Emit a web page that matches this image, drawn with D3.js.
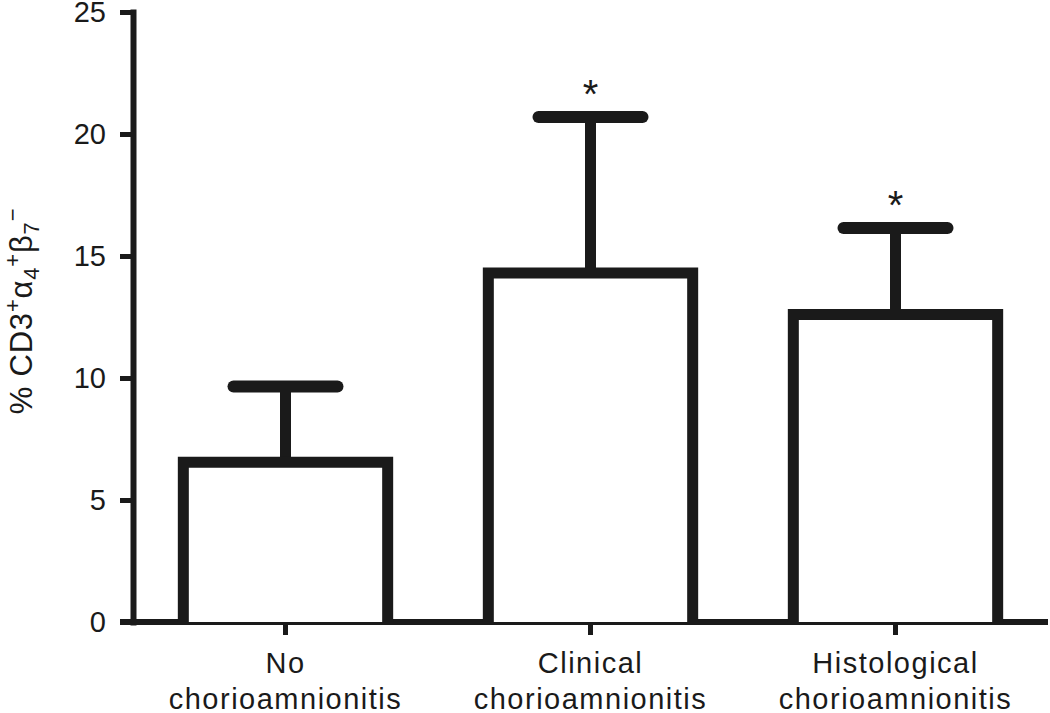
<!DOCTYPE html>
<html>
<head>
<meta charset="utf-8">
<script src="https://cdn.jsdelivr.net/npm/d3@7/dist/d3.min.js"></script>
<style>
  html, body { margin: 0; padding: 0; background: #fff; }
  svg { display: block; }
  text { font-family: "Liberation Sans", Arial, Helvetica, sans-serif; fill: #1a1a1a; }
</style>
</head>
<body>
<svg id="chart" width="1050" height="713"></svg>
<script>
// ---- data ----
const categories = ["No chorioamnionitis", "Clinical chorioamnionitis", "Histological chorioamnionitis"];
const labelLine1 = ["No", "Clinical", "Histological"];
const labelLine2 = ["chorioamnionitis", "chorioamnionitis", "chorioamnionitis"];
const means = [6.55, 14.3, 12.6];
const errors = [3.1, 6.4, 3.55];
const significance = ["", "*", "*"];
const yTicks = [0, 5, 10, 15, 20, 25];

// ---- layout ----
const ink = "#1a1a1a";
const svg = d3.select("#chart");
const y = d3.scaleLinear().domain([0, 25]).range([622, 12]);
const x = d3.scaleBand().domain(categories).range([133, 1048])
  .paddingInner(0.33).paddingOuter(0.165);

// y axis
const yAxis = svg.append("g").attr("transform", "translate(133,0)")
  .call(d3.axisLeft(y).tickValues(yTicks).tickSize(13).tickSizeOuter(0).tickPadding(14));
yAxis.select(".domain").attr("stroke", ink).attr("stroke-width", 6).attr("stroke-linecap", "square");
yAxis.selectAll(".tick line").attr("stroke", ink).attr("stroke-width", 5);
yAxis.selectAll(".tick text").attr("font-size", 29).attr("fill", ink)
  .attr("font-family", "Liberation Sans, Arial, sans-serif");

// x axis
const xAxis = svg.append("g").attr("transform", "translate(0,622)")
  .call(d3.axisBottom(x).tickSize(13).tickSizeOuter(0));
xAxis.select(".domain").remove();
xAxis.selectAll(".tick line").attr("stroke", ink).attr("stroke-width", 5);
xAxis.selectAll(".tick text").remove();
xAxis.append("line")
  .attr("x1", x.range()[0] - 13).attr("x2", x.range()[1])
  .attr("y1", 0).attr("y2", 0)
  .attr("stroke", ink).attr("stroke-width", 6);
xAxis.selectAll(".tick").each(function(d, i) {
  const t = d3.select(this).append("text")
    .attr("text-anchor", "middle").attr("font-size", 29)
    .attr("letter-spacing", 1.5).attr("fill", ink);
  t.append("tspan").attr("x", 0).attr("y", 51).text(labelLine1[i]);
  t.append("tspan").attr("x", 0).attr("y", 87).text(labelLine2[i]);
});

// bars
const bw = x.bandwidth();
const g = svg.append("g");
categories.forEach((c, i) => {
  const x0 = x(c), x1 = x(c) + bw, cx = x(c) + bw / 2;
  const top = y(means[i]), base = y(0);
  const errTop = y(means[i] + errors[i]);
  g.append("line").attr("x1", cx).attr("x2", cx).attr("y1", top).attr("y2", errTop)
    .attr("stroke", ink).attr("stroke-width", 11);
  g.append("line").attr("x1", cx - 52).attr("x2", cx + 52).attr("y1", errTop).attr("y2", errTop)
    .attr("stroke", ink).attr("stroke-width", 12).attr("stroke-linecap", "round");
  g.append("path")
    .attr("d", `M${x0},${base} V${top} H${x1} V${base}`)
    .attr("fill", "#fff").attr("stroke", ink).attr("stroke-width", 11)
    .attr("stroke-linejoin", "miter");
  if (significance[i]) {
    g.append("text").attr("x", cx).attr("y", errTop - 9)
      .attr("text-anchor", "middle").attr("font-size", 40).attr("fill", ink)
      .text(significance[i]);
  }
});

// y label
const yl = svg.append("text")
  .attr("transform", "rotate(-90)")
  .attr("x", -311).attr("y", 32)
  .attr("text-anchor", "middle").attr("font-size", 31)
  .attr("letter-spacing", 0.8).attr("fill", ink);
yl.append("tspan").text("% CD3");
yl.append("tspan").attr("font-size", 22).attr("dy", -12).text("+");
yl.append("tspan").attr("dy", 12).text("α");
yl.append("tspan").attr("font-size", 22).attr("dy", 7).text("4");
yl.append("tspan").attr("font-size", 22).attr("dy", -19).text("+");
yl.append("tspan").attr("dy", 12).text("β");
yl.append("tspan").attr("font-size", 22).attr("dy", 7).text("7");
yl.append("tspan").attr("font-size", 22).attr("dy", -19).text("−");
</script>
</body>
</html>
